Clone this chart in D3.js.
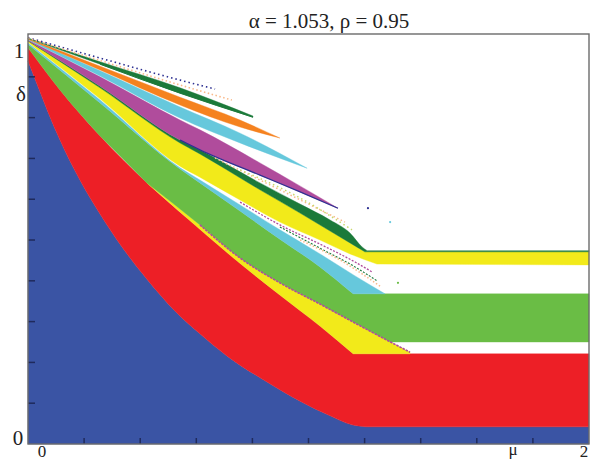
<!DOCTYPE html>
<html>
<head>
<meta charset="utf-8">
<script src="https://cdn.jsdelivr.net/npm/d3@7"></script>
<style>
  body { margin: 0; background: #fff; }
  svg { display: block; }
  .label { font-family: 'Liberation Serif', 'DejaVu Serif', serif; fill: #222; }
</style>
</head>
<body>
<div id="chart"></div>
<script>
'use strict';

const titleText = 'α = 1.053, ρ = 0.95';
const muTicks = [0.2, 0.4, 0.6, 0.8, 1.0, 1.2, 1.4, 1.6, 1.8];
const deltaTicks = [0.1, 0.2, 0.3, 0.4, 0.5, 0.6, 0.7, 0.8, 0.9];

// region boundaries, [mu, delta] (left to right)
const blueEdge = [[0, 0.939], [0.036, 0.875], [0.071, 0.814], [0.114, 0.745], [0.185, 0.647],
  [0.250, 0.571], [0.335, 0.483], [0.424, 0.404], [0.524, 0.326], [0.613, 0.270], [0.709, 0.216],
  [0.852, 0.152], [0.970, 0.105], [1.077, 0.069], [1.155, 0.047], [1.219, 0.042], [2, 0.042]];
const redEdge = [[0, 0.971], [0.114, 0.868], [0.257, 0.755], [0.424, 0.640], [0.578, 0.547],
  [0.720, 0.463], [0.898, 0.365], [1.041, 0.289], [1.159, 0.221]];
const redFloor = [[2, 0.221]];
const lowYellowEdge = [[0.424, 0.640], [0.613, 0.537], [0.756, 0.456], [0.898, 0.395],
  [1.041, 0.343], [1.159, 0.299], [1.273, 0.257], [1.362, 0.225]];
const lowYellowTip = [[1.362, 0.221]];
const greenEdge = [[0, 0.980], [0.257, 0.836], [0.542, 0.674], [0.613, 0.640], [0.756, 0.571],
  [0.898, 0.502], [1.041, 0.434], [1.159, 0.368]];
const greenStrip = [[2, 0.368], [2, 0.250], [1.291, 0.250]];
const cyanEdge = [[0, 0.983], [0.257, 0.843], [0.542, 0.677], [0.613, 0.647], [0.756, 0.586],
  [0.898, 0.525], [1.041, 0.466], [1.166, 0.412], [1.273, 0.368]];
const yellowBottom = [[0, 0.985], [0.257, 0.846], [0.542, 0.681], [0.613, 0.654], [0.756, 0.598],
  [0.898, 0.544], [1.041, 0.500], [1.148, 0.466], [1.244, 0.441]];
const yellowTop = [[0, 0.988], [0.257, 0.873], [0.542, 0.738], [0.613, 0.711], [0.827, 0.623],
  [0.970, 0.566], [1.077, 0.522], [1.148, 0.493], [1.201, 0.471]];
const yellowStrip = [[2, 0.471], [2, 0.439]];
const wedgeTop = [[0, 0.989], [0.257, 0.877], [0.542, 0.745], [0.613, 0.721], [0.827, 0.640],
  [0.970, 0.588], [1.077, 0.549], [1.148, 0.517], [1.191, 0.483], [1.209, 0.474]];
const wedgeStrip = [[2, 0.474], [2, 0.471]];
const purpleTop = [[0, 0.990], [0.257, 0.900], [0.542, 0.794], [0.613, 0.770], [0.827, 0.689], [1.105, 0.578]];
const purpleBottom = [[0, 0.989], [0.257, 0.877], [0.542, 0.745], [0.613, 0.721], [0.827, 0.659],
  [0.970, 0.618], [1.105, 0.578]];
const cyanUpTop = [[0, 0.993], [0.257, 0.915], [0.542, 0.826], [0.756, 0.762], [0.995, 0.676]];
const cyanUpBottom = [[0, 0.991], [0.257, 0.902], [0.542, 0.799], [0.756, 0.738], [0.995, 0.676]];
const orangeTop = [[0, 0.994], [0.257, 0.926], [0.542, 0.850], [0.756, 0.794], [0.898, 0.750]];
const orangeBottom = [[0, 0.992], [0.257, 0.917], [0.542, 0.831], [0.756, 0.777], [0.898, 0.750]];
const darkGreenTop = [[0, 0.995], [0.257, 0.937], [0.542, 0.873], [0.802, 0.804]];
const darkGreenBottom = [[0, 0.994], [0.257, 0.931], [0.542, 0.860], [0.802, 0.801]];

// dotted trails
const blueDots = [[0, 0.996], [0.257, 0.946], [0.542, 0.892], [0.667, 0.870]];
const paleOrangeDots = [[0, 0.995], [0.257, 0.940], [0.542, 0.880], [0.727, 0.843]];
const orangeTrail = [[0.667, 0.701], [0.898, 0.623], [1.130, 0.544]];
const limeTrail = [[0.756, 0.672], [0.970, 0.603], [1.155, 0.525]];
const purpleTrail = [[0.756, 0.593], [0.898, 0.537], [1.041, 0.490], [1.166, 0.446], [1.226, 0.422]];
const greenTrail = [[0.898, 0.532], [1.041, 0.480], [1.166, 0.434], [1.244, 0.400]];
const orangeTrail2 = [[0.970, 0.500], [1.112, 0.451], [1.255, 0.387]];
const strayDots = [[1.212, 0.578, '#2e3192'], [1.291, 0.544, '#66c8dc'], [1.319, 0.395, '#6abd45']];

const colors = {
  blue: '#3a54a4', red: '#ed1f26', green: '#6abd45', yellow: '#f2ea1a', cyan: '#66c8dc',
  purple: '#b04c9c', orange: '#f5821f', darkGreen: '#1b7a3a', navy: '#2e3192', paleOrange: '#f9b98a'
};

function rev(arr) {
  return arr.slice().reverse();
}

class Chart {
  constructor(options) {
    this.element = options.element;
    this.width = 595;
    this.height = 461;
    this.x = d3.scaleLinear().domain([0, 2]).range([28, 589]);
    this.y = d3.scaleLinear().domain([0, 1.005]).range([444, 34]);
  }

  draw() {
    this.svg = d3.select(this.element).append('svg')
      .attr('width', this.width)
      .attr('height', this.height);
    this.smooth = d3.line().x((d) => this.x(d[0])).y((d) => this.y(d[1]))
      .curve(d3.curveMonotoneX);
    this.drawRegions();
    this.drawTrails();
    this.drawFrame();
    this.drawLabels();
  }

  // closed outline from pieces; pieces of 3+ points are smoothed on their own
  shape(pieces) {
    let d = '';
    pieces.forEach((p) => {
      if (p.length > 2) {
        d += 'L' + this.smooth(p).slice(1);
      } else {
        p.forEach((q) => { d += 'L' + this.x(q[0]) + ',' + this.y(q[1]); });
      }
    });
    return 'M' + d.slice(1) + 'Z';
  }

  drawRegions() {
    const regions = [
      { c: colors.blue, pieces: [[[0, 0]], blueEdge, [[2, 0]]] },
      { c: colors.red, pieces: [redEdge, redFloor, rev(blueEdge)] },
      { c: colors.yellow, pieces: [lowYellowEdge, lowYellowTip, rev(redEdge.slice(3))] },
      { c: colors.green, pieces: [greenEdge, greenStrip, rev(lowYellowEdge.slice(0, 7)),
          rev(redEdge.slice(0, 3))] },
      { c: colors.cyan, pieces: [cyanEdge, rev(greenEdge)] },
      { c: colors.yellow, pieces: [yellowTop, yellowStrip, rev(yellowBottom)] },
      { c: colors.darkGreen, pieces: [wedgeTop, wedgeStrip, rev(yellowTop)] },
      { c: colors.purple, pieces: [purpleTop, rev(purpleBottom)] },
      { c: colors.cyan, pieces: [cyanUpTop, rev(cyanUpBottom)] },
      { c: colors.orange, pieces: [orangeTop, rev(orangeBottom)] },
      { c: colors.darkGreen, pieces: [darkGreenTop, rev(darkGreenBottom)] }
    ];
    this.svg.append('g').selectAll('path')
      .data(regions)
      .enter().append('path')
        .attr('d', (d) => this.shape(d.pieces))
        .attr('fill', (d) => d.c)
        .attr('stroke', (d) => d.c)
        .attr('stroke-width', 0.4);
  }

  drawTrails() {
    const trails = [
      { pts: purpleBottom.slice(2), c: colors.navy, w: 1.2, dash: null },
      { pts: blueDots, c: colors.navy, w: 1.6, dash: '1.5,3' },
      { pts: paleOrangeDots, c: colors.paleOrange, w: 1.6, dash: '1.5,2.5' },
      { pts: darkGreenBottom.slice(1), c: colors.darkGreen, w: 1, dash: null },
      { pts: orangeTrail, c: colors.paleOrange, w: 1.5, dash: '1.5,2.5' },
      { pts: limeTrail, c: '#c8d86a', w: 1.5, dash: '1.5,3' },
      { pts: purpleTrail, c: colors.purple, w: 1.3, dash: '2,1.5' },
      { pts: greenTrail, c: colors.darkGreen, w: 1.1, dash: '2,1.5' },
      { pts: orangeTrail2, c: colors.paleOrange, w: 1.5, dash: '1.5,2' },
      { pts: lowYellowEdge.slice(1), c: colors.purple, w: 1.6, dash: '2.5,1' }
    ];
    this.svg.append('g').selectAll('path')
      .data(trails)
      .enter().append('path')
        .attr('d', (d) => this.smooth(d.pts))
        .attr('fill', 'none')
        .attr('stroke', (d) => d.c)
        .attr('stroke-width', (d) => d.w)
        .attr('stroke-dasharray', (d) => d.dash);
    this.svg.append('g').selectAll('circle')
      .data(strayDots)
      .enter().append('circle')
        .attr('cx', (d) => this.x(d[0]))
        .attr('cy', (d) => this.y(d[1]))
        .attr('r', 1.1)
        .attr('fill', (d) => d[2]);
  }

  drawFrame() {
    const g = this.svg.append('g');
    g.selectAll('.xtick')
      .data(muTicks)
      .enter().append('line')
        .attr('x1', (d) => this.x(d)).attr('x2', (d) => this.x(d))
        .attr('y1', this.y(0)).attr('y2', this.y(0) - 6)
        .attr('stroke', '#1f2a5c').attr('stroke-width', 1.5);
    g.selectAll('.ytick')
      .data(deltaTicks)
      .enter().append('line')
        .attr('x1', this.x(0)).attr('x2', this.x(0) + 7)
        .attr('y1', (d) => this.y(d)).attr('y2', (d) => this.y(d))
        .attr('stroke', '#1f2a5c').attr('stroke-width', 1.5);
    g.append('rect')
      .attr('x', this.x(0))
      .attr('y', this.y(1.005))
      .attr('width', this.x(2) - this.x(0))
      .attr('height', this.y(0) - this.y(1.005))
      .attr('fill', 'none')
      .attr('stroke', '#6b6b6b')
      .attr('stroke-width', 1.4);
  }

  drawLabels() {
    const labels = [
      { t: titleText, x: 329, y: 28, s: 21 },
      { t: '1', x: 19, y: 58, s: 21 },
      { t: 'δ', x: 21, y: 101, s: 21 },
      { t: '0', x: 18, y: 445, s: 21 },
      { t: '0', x: 42, y: 457, s: 17 },
      { t: 'μ', x: 513, y: 455, s: 17 },
      { t: '2', x: 584, y: 457, s: 17 }
    ];
    this.svg.append('g').selectAll('text')
      .data(labels)
      .enter().append('text')
        .attr('class', 'label')
        .attr('x', (d) => d.x)
        .attr('y', (d) => d.y)
        .attr('text-anchor', 'middle')
        .style('font-size', (d) => d.s + 'px')
        .text((d) => d.t);
  }
}

new Chart({ element: document.getElementById('chart') }).draw();
</script>
</body>
</html>
